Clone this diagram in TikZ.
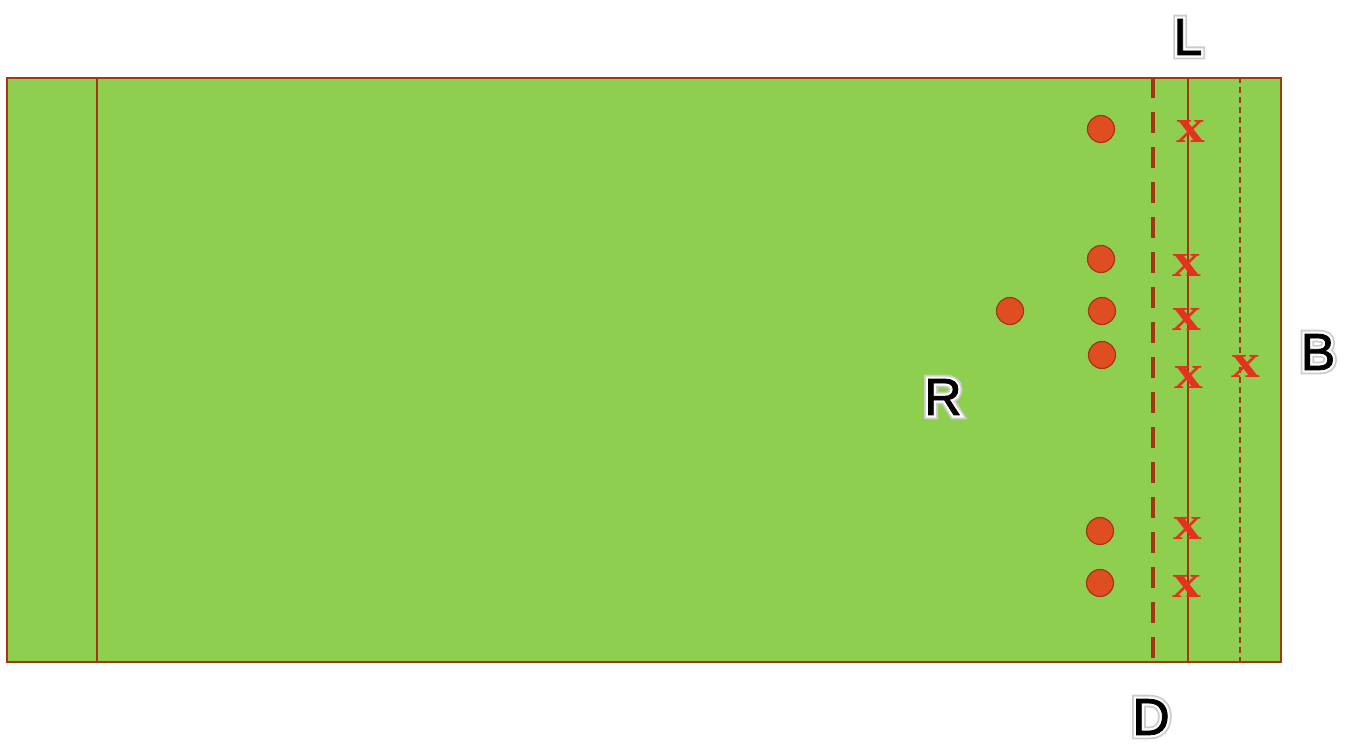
\documentclass[tikz,border=0pt]{standalone}
\usepackage{fontspec}
\setmainfont{Liberation Sans}
\newfontfamily\xfont{Liberation Serif}
\newfontfamily\glowgrey[FakeBold=17]{Liberation Sans}
\newfontfamily\glowwhite[FakeBold=10]{Liberation Sans}
\newfontfamily\labfont[FakeBold=1.5]{Liberation Sans}
\definecolor{field}{RGB}{143,207,80}
\definecolor{edge}{RGB}{168,52,22}
\definecolor{dotfill}{RGB}{222,78,32}
\definecolor{xred}{RGB}{232,48,30}
\tikzset{
  player/.style={circle,draw=edge,fill=dotfill,line width=1.2pt,minimum size=27pt,inner sep=0pt},
  xmark/.style={text=xred,font=\xfont\bfseries\fontsize{48}{48}\selectfont,inner sep=0pt,xscale=1.2},
  lbl/.style={inner sep=0pt},
}
\newcommand{\glowlabel}[3]{%
  \node[lbl,text=black!20,font=\glowgrey\fontsize{52}{52}\selectfont] at (#1) {#3};
  \node[lbl,text=white,font=\glowwhite\fontsize{52}{52}\selectfont] at (#1) {#3};
  \node[lbl,text=black,font=\labfont\fontsize{52}{52}\selectfont] (#2) at (#1) {#3};}
\begin{document}
\begin{tikzpicture}[x=1pt,y=-1pt]
\useasboundingbox (0,0) rectangle (1346,745);
\fill[white] (0,0) rectangle (1346,745);
\node[draw=edge,fill=field,line width=1.6pt,minimum width=1274pt,minimum height=584pt,inner sep=0pt,anchor=north west] (field) at (6,77) {};
\coordinate (lt) at (97,77); \coordinate (lb) at (97,661);
\draw[edge,line width=1.6pt] (lt) -- (lb);
\coordinate (dt) at (1153,77); \coordinate (db) at (1153,661);
\draw[edge,line width=4pt,dash pattern=on 21pt off 14pt] (dt) -- (db);
\coordinate (st) at (1188,77); \coordinate (sb) at (1188,661);
\draw[edge,line width=1.6pt] (st) -- (sb);
\coordinate (tt) at (1240,77); \coordinate (tb) at (1240,661);
\draw[edge,line width=1.4pt,dash pattern=on 6pt off 4pt] (tt) -- (tb);
\node[player] (p1) at (1101,129) {};
\node[player] (p2) at (1101,259) {};
\node[player] (p3) at (1010,311) {};
\node[player] (p4) at (1102,311) {};
\node[player] (p5) at (1102,355) {};
\node[player] (p6) at (1100,531) {};
\node[player] (p7) at (1100,583) {};
\node[xmark] (x1) at (1191,131) {x};
\node[xmark] (x2) at (1187,265) {x};
\node[xmark] (x3) at (1187,319) {x};
\node[xmark] (x4) at (1189,377) {x};
\node[xmark] (x5) at (1246,366) {x};
\node[xmark] (x6) at (1188,528) {x};
\node[xmark] (x7) at (1187,586) {x};
\glowlabel{1188,37}{labL}{L}
\glowlabel{1318,352}{labB}{B}
\glowlabel{943,397}{labR}{R}
\glowlabel{1151,717}{labD}{D}
\end{tikzpicture}
\end{document}
